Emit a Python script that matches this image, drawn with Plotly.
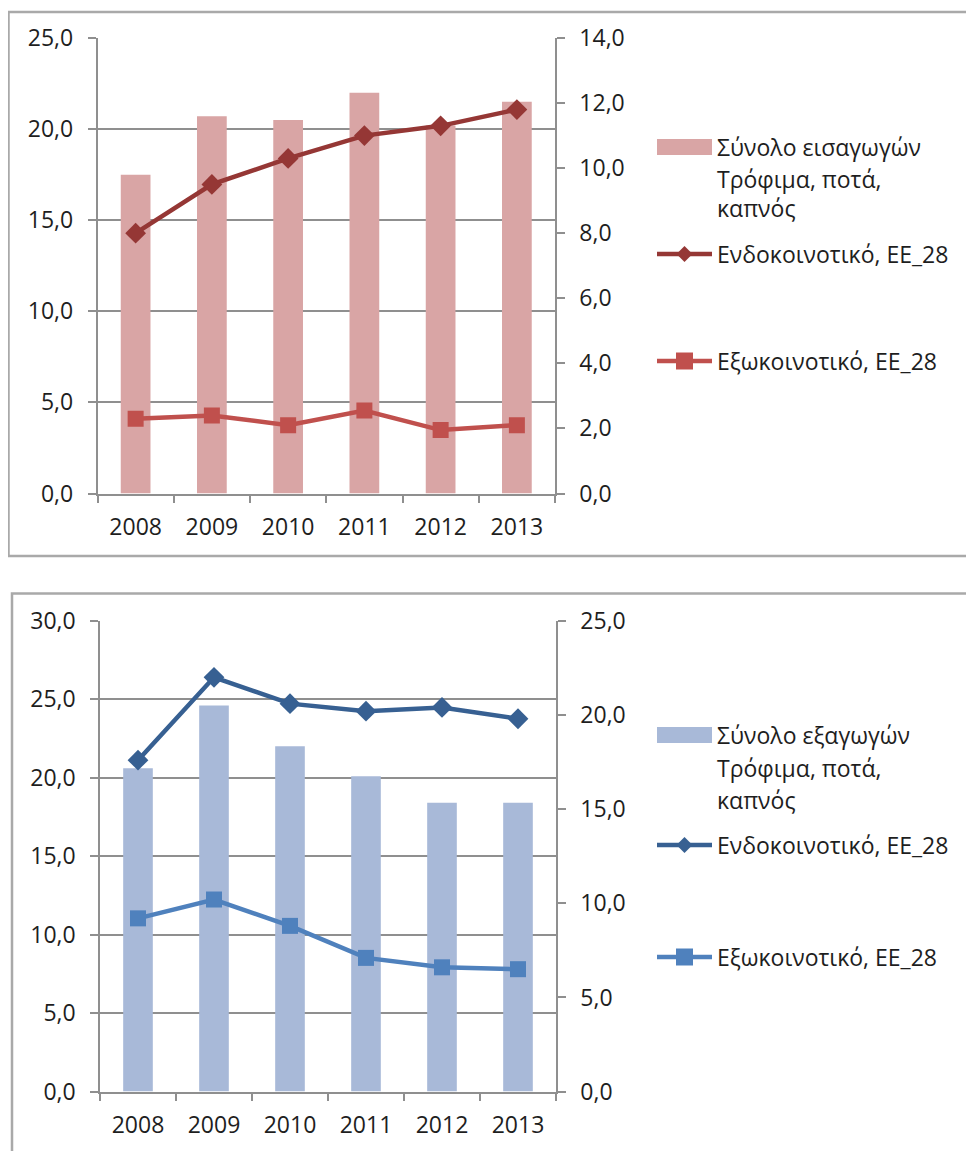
import plotly.graph_objects as go

W, H = 974, 1151
OFF = 8  # page body margin

years = ["2008", "2009", "2010", "2011", "2012", "2013"]

# Top chart (imports)
imp_total = [17.5, 20.7, 20.5, 22.0, 20.2, 21.5]
imp_intra = [8.0, 9.5, 10.3, 11.0, 11.3, 11.8]
imp_extra = [2.3, 2.4, 2.1, 2.55, 1.95, 2.1]

# Bottom chart (exports)
exp_total = [20.6, 24.6, 22.0, 20.1, 18.4, 18.4]
exp_intra = [17.6, 22.0, 20.6, 20.2, 20.4, 19.8]
exp_extra = [9.2, 10.2, 8.8, 7.1, 6.6, 6.5]

top_legend = [["Σύνολο εισαγωγών", "Τρόφιμα, ποτά,", "καπνός"], "Ενδοκοινοτικό, ΕΕ_28", "Εξωκοινοτικό, ΕΕ_28"]
bot_legend = [["Σύνολο εξαγωγών", "Τρόφιμα, ποτά,", "καπνός"], "Ενδοκοινοτικό, ΕΕ_28", "Εξωκοινοτικό, ΕΕ_28"]

C_IMP_BAR, C_IMP_IN, C_IMP_EX = "#d9a5a5", "#953735", "#c0504d"
C_EXP_BAR, C_EXP_IN, C_EXP_EX = "#a8b9d8", "#376092", "#4f81bd"

FONT = "Open Sans"
TXT = "#1e1e1e"
GRID = "#8f8f8f"

def px(x):
    return (x - OFF) / W

def py(y):
    return 1 - (y - OFF) / H

fig = go.Figure()

# ---- traces
fig.add_trace(go.Bar(x=years, y=imp_total, marker=dict(color=C_IMP_BAR, line=dict(width=0)),
                     xaxis="x", yaxis="y", showlegend=False))
fig.add_trace(go.Scatter(x=years, y=imp_intra, mode="lines+markers", xaxis="x", yaxis="y2",
                         line=dict(color=C_IMP_IN, width=4.5),
                         marker=dict(symbol="diamond", size=16, color=C_IMP_IN), showlegend=False))
fig.add_trace(go.Scatter(x=years, y=imp_extra, mode="lines+markers", xaxis="x", yaxis="y2",
                         line=dict(color=C_IMP_EX, width=4.5),
                         marker=dict(symbol="square", size=16, color=C_IMP_EX), showlegend=False))

fig.add_trace(go.Bar(x=years, y=exp_total, marker=dict(color=C_EXP_BAR, line=dict(width=0)),
                     xaxis="x2", yaxis="y3", showlegend=False))
fig.add_trace(go.Scatter(x=years, y=exp_intra, mode="lines+markers", xaxis="x2", yaxis="y4",
                         line=dict(color=C_EXP_IN, width=4.5),
                         marker=dict(symbol="diamond", size=16, color=C_EXP_IN), showlegend=False))
fig.add_trace(go.Scatter(x=years, y=exp_extra, mode="lines+markers", xaxis="x2", yaxis="y4",
                         line=dict(color=C_EXP_EX, width=4.5),
                         marker=dict(symbol="square", size=16, color=C_EXP_EX), showlegend=False))

tickfont = dict(family=FONT, size=23, color=TXT)

def xax(domain, anchor):
    return dict(domain=domain, anchor=anchor, type="category", tickson="boundaries",
                ticks="outside", ticklen=8, tickwidth=1.5, tickcolor=GRID,
                showline=True, linecolor=GRID, linewidth=1.5, showgrid=False,
                tickfont=tickfont, ticklabelstandoff=12, fixedrange=True, automargin=False)

def yax_left(domain, anchor, rng, dtick):
    return dict(domain=domain, anchor=anchor, range=rng, dtick=dtick, tickformat=".1f",
                ticks="outside", ticklen=8, tickwidth=1.5, tickcolor=GRID,
                showline=True, linecolor=GRID, linewidth=1.5,
                showgrid=True, gridcolor=GRID, gridwidth=1.5, zeroline=False,
                tickfont=tickfont, ticklabelstandoff=10, fixedrange=True, automargin=False)

def yax_right(overlay, anchor, rng, dtick):
    return dict(overlaying=overlay, anchor=anchor, side="right", range=rng, dtick=dtick,
                tickformat=".1f", ticks="outside", ticklen=8, tickwidth=1.5, tickcolor=GRID,
                showline=True, linecolor=GRID, linewidth=1.5, showgrid=False, zeroline=False,
                tickfont=tickfont, ticklabelstandoff=10, fixedrange=True, automargin=False)

top_dom_y = [py(493.5), py(38)]
bot_dom_y = [py(1091.6), py(620.8)]

fig.update_layout(
    width=W, height=H,
    margin=dict(l=0, r=0, t=0, b=0, autoexpand=False),
    paper_bgcolor="white", plot_bgcolor="white",
    separators=",.",
    bargap=0.61,
    showlegend=False,
    font=dict(family=FONT, color=TXT),
    xaxis=xax([px(97.5), px(555)], "y"),
    yaxis=yax_left(top_dom_y, "x", [0, 25], 5),
    yaxis2=yax_right("y", "x", [0, 14], 2),
    xaxis2=xax([px(100), px(556)], "y3"),
    yaxis3=yax_left(bot_dom_y, "x2", [0, 30], 5),
    yaxis4=yax_right("y3", "x2", [0, 25], 5),
)

shapes = []
annotations = []

# chart frames
BOX = "#a9a9a9"
shapes.append(dict(type="rect", xref="paper", yref="paper", x0=px(8.5), x1=px(995),
                   y0=py(556), y1=py(12), line=dict(color=BOX, width=2.5), layer="below"))
shapes.append(dict(type="rect", xref="paper", yref="paper", x0=px(12), x1=px(995),
                   y0=py(1175), y1=py(593.5), line=dict(color=BOX, width=2.5), layer="below"))

LFONT = dict(family=FONT, size=23, color=TXT)

def legend_block(labels, cbar, cin, cex, ys):
    # ys: y centres for [bar line1, line2, line3, intra, extra]
    x0, x1, xt = 657, 712, 715
    shapes.append(dict(type="rect", xref="paper", yref="paper", x0=px(x0), x1=px(x1),
                       y0=py(ys[0] + 8), y1=py(ys[0] - 8), fillcolor=cbar, line=dict(width=0)))
    for i, t in enumerate(labels[0]):
        annotations.append(dict(xref="paper", yref="paper", x=px(xt), y=py(ys[i]), text=t,
                                showarrow=False, xanchor="left", yanchor="middle", font=LFONT))
    yi = ys[3]
    shapes.append(dict(type="line", xref="paper", yref="paper", x0=px(x0), x1=px(x1),
                       y0=py(yi), y1=py(yi), line=dict(color=cin, width=4.5)))
    cx, r = (x0 + x1) / 2, 8
    shapes.append(dict(type="path", xref="paper", yref="paper",
                       path=f"M {px(cx-r)} {py(yi)} L {px(cx)} {py(yi-r)} L {px(cx+r)} {py(yi)} L {px(cx)} {py(yi+r)} Z",
                       fillcolor=cin, line=dict(width=0)))
    annotations.append(dict(xref="paper", yref="paper", x=px(xt), y=py(yi), text=labels[1],
                            showarrow=False, xanchor="left", yanchor="middle", font=LFONT))
    ye = ys[4]
    shapes.append(dict(type="line", xref="paper", yref="paper", x0=px(x0), x1=px(x1),
                       y0=py(ye), y1=py(ye), line=dict(color=cex, width=4.5)))
    s = 8.5
    shapes.append(dict(type="rect", xref="paper", yref="paper", x0=px(cx - s), x1=px(cx + s),
                       y0=py(ye + s), y1=py(ye - s), fillcolor=cex, line=dict(width=0)))
    annotations.append(dict(xref="paper", yref="paper", x=px(xt), y=py(ye), text=labels[2],
                            showarrow=False, xanchor="left", yanchor="middle", font=LFONT))

legend_block(top_legend, C_IMP_BAR, C_IMP_IN, C_IMP_EX, [147, 179, 208, 254, 361])
legend_block(bot_legend, C_EXP_BAR, C_EXP_IN, C_EXP_EX, [735, 768, 800, 845, 957])

fig.update_layout(shapes=shapes, annotations=annotations)

fig.write_html("out.html")
